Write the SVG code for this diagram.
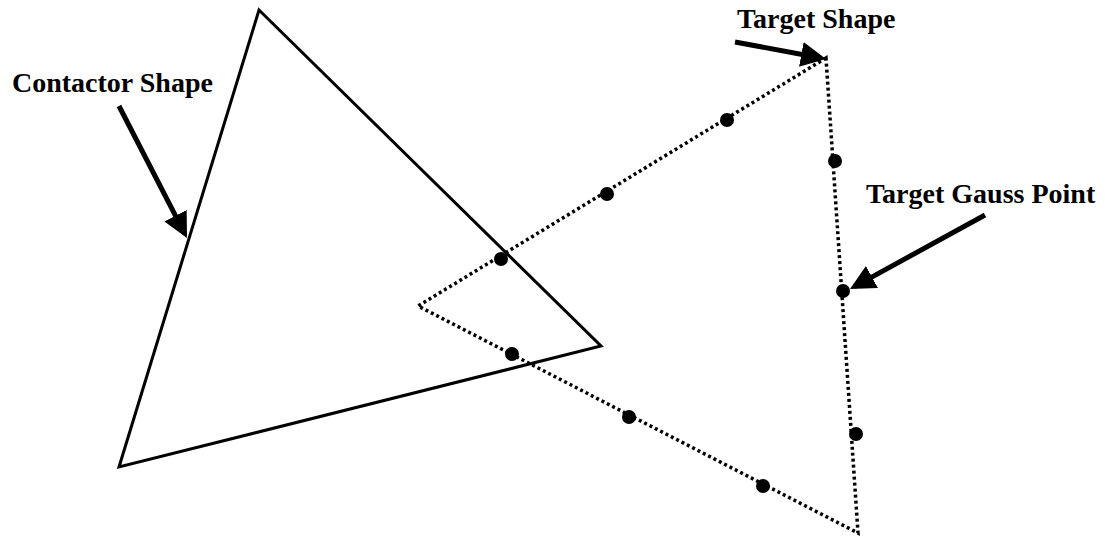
<svg xmlns="http://www.w3.org/2000/svg" width="1107" height="542" viewBox="0 0 1107 542">
<style>
.lbl{font-family:"Liberation Serif","Times New Roman",serif;font-weight:bold;font-size:28px;fill:#000}
.solid{fill:none;stroke:#000;stroke-width:3;stroke-linejoin:miter}
.dotted{fill:none;stroke:#000;stroke-width:3.5;stroke-dasharray:3 3}
.gp{fill:#000}
.arr{stroke:#000;stroke-width:5;fill:none}
</style>
<defs>
<marker id="ah" markerWidth="5" markerHeight="5" refX="4" refY="2.5" orient="auto" markerUnits="strokeWidth">
<path d="M0,0 L5,2.5 L0,5 Z" fill="#000"/>
</marker>
</defs>
<g id="contactor">
<polygon class="solid" points="259,10 601,346 119,467"/>
</g>
<g id="target">
<polygon class="dotted" points="826,58 418,306 858,533"/>
</g>
<g id="gauss-points">
<circle class="gp" cx="727" cy="120" r="7"/>
<circle class="gp" cx="607" cy="194" r="7"/>
<circle class="gp" cx="501" cy="259" r="7"/>
<circle class="gp" cx="835" cy="161" r="7"/>
<circle class="gp" cx="843" cy="291" r="7"/>
<circle class="gp" cx="856" cy="434" r="7"/>
<circle class="gp" cx="512" cy="354" r="7"/>
<circle class="gp" cx="629" cy="417" r="7"/>
<circle class="gp" cx="763" cy="486" r="7"/>
</g>
<g id="label-contactor">
<text class="lbl" x="12" y="92">Contactor Shape</text>
</g>
<g id="label-target">
<text class="lbl" x="737" y="28">Target Shape</text>
</g>
<g id="label-gauss">
<text class="lbl" x="866" y="203">Target Gauss Point</text>
</g>
<g id="connectors">
<line class="arr" x1="119" y1="106" x2="184.7" y2="233.6" marker-end="url(#ah)"/>
<line class="arr" x1="735" y1="42" x2="821" y2="58" marker-end="url(#ah)"/>
<line class="arr" x1="985" y1="215" x2="854.4" y2="286.6" marker-end="url(#ah)"/>
</g>
</svg>
